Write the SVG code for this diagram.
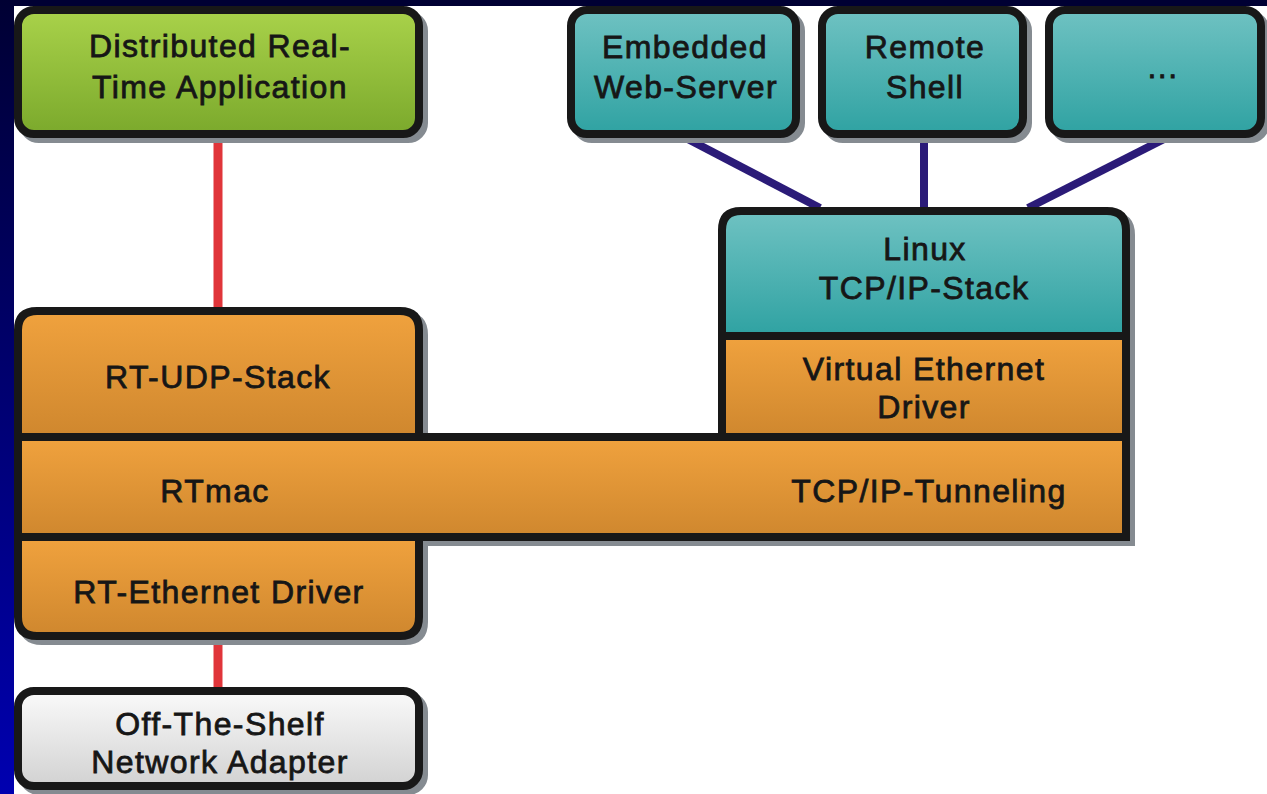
<svg xmlns="http://www.w3.org/2000/svg" width="1267" height="794" viewBox="0 0 1267 794">
  <defs>
    <linearGradient id="gGreen" x1="0" y1="0" x2="0" y2="1">
      <stop offset="0" stop-color="#a9d24a"/>
      <stop offset="1" stop-color="#7ba92c"/>
    </linearGradient>
    <linearGradient id="gTeal" x1="0" y1="0" x2="0" y2="1">
      <stop offset="0" stop-color="#6fc2c2"/>
      <stop offset="1" stop-color="#2fa2a2"/>
    </linearGradient>
    <linearGradient id="gOrange" x1="0" y1="0" x2="0" y2="1">
      <stop offset="0" stop-color="#f0a23e"/>
      <stop offset="1" stop-color="#cf872e"/>
    </linearGradient>
    <linearGradient id="gGray" x1="0" y1="0" x2="0" y2="1">
      <stop offset="0" stop-color="#fafafa"/>
      <stop offset="1" stop-color="#d2d2d2"/>
    </linearGradient>
    <linearGradient id="gSide" x1="0" y1="0" x2="0" y2="1">
      <stop offset="0" stop-color="#000033"/>
      <stop offset="1" stop-color="#0000b0"/>
    </linearGradient>
  </defs>
  <style>
    .box { stroke: #181818; stroke-width: 8; stroke-linejoin: miter; }
    .shadow { fill: #858b91; stroke: #858b91; stroke-width: 8; }
    .lbl { font-family: "Liberation Sans", Arial, sans-serif; font-size: 32px; fill: #161616; stroke: #161616; stroke-width: 0.8px; text-anchor: middle; letter-spacing: 1.4px; }
    .red { stroke: #e0353a; stroke-width: 9; fill: none; }
    .ind { stroke: #2b1b78; stroke-width: 8; fill: none; }
  </style>

  <rect x="0" y="0" width="1267" height="794" fill="#ffffff"/>
  <rect x="0" y="0" width="1267" height="6" fill="#000033"/>
  <rect x="0" y="0" width="14" height="794" fill="url(#gSide)"/>

  <g id="connectors">
    <line class="red" x1="218" y1="138" x2="218" y2="308"/>
    <line class="red" x1="218" y1="638" x2="218" y2="689"/>
    <line class="ind" x1="682" y1="136" x2="820" y2="208"/>
    <line class="ind" x1="924" y1="136" x2="924" y2="208"/>
    <line class="ind" x1="1174" y1="134" x2="1028" y2="208"/>
  </g>

  <g id="shadows" transform="translate(5,5)">
    <rect class="shadow" x="18" y="10" width="401" height="124" rx="16"/>
    <rect class="shadow" x="571" y="10" width="225" height="124" rx="16"/>
    <rect class="shadow" x="822" y="10" width="201" height="124" rx="16"/>
    <rect class="shadow" x="1049" y="10" width="212" height="124" rx="16"/>
    <path class="shadow" d="M18,330 Q18,311 37,311 L400,311 Q419,311 419,330 L419,617 Q419,636 400,636 L37,636 Q18,636 18,617 Z"/>
    <path class="shadow" d="M18,437 L1126,437 L1126,537 L18,537 Z"/>
    <path class="shadow" d="M722,230 Q722,211 741,211 L1107,211 Q1126,211 1126,230 L1126,437 L722,437 Z"/>
    <rect class="shadow" x="18" y="691" width="401" height="95" rx="16"/>
  </g>

  <g id="app">
    <rect class="box" x="18" y="10" width="401" height="124" rx="16" fill="url(#gGreen)"/>
    <text class="lbl" x="220" y="57">Distributed Real-</text>
    <text class="lbl" x="220" y="98">Time Application</text>
  </g>

  <g id="webserver">
    <rect class="box" x="571" y="10" width="225" height="124" rx="16" fill="url(#gTeal)"/>
    <text class="lbl" x="685" y="58">Embedded</text>
    <text class="lbl" x="686" y="98">Web-Server</text>
  </g>

  <g id="shell">
    <rect class="box" x="822" y="10" width="201" height="124" rx="16" fill="url(#gTeal)"/>
    <text class="lbl" x="925" y="58">Remote</text>
    <text class="lbl" x="925" y="98">Shell</text>
  </g>

  <g id="more">
    <rect class="box" x="1049" y="10" width="212" height="124" rx="16" fill="url(#gTeal)"/>
    <text class="lbl" x="1163" y="78">...</text>
  </g>

  <g id="rtudp">
    <path class="box" d="M18,330 Q18,311 37,311 L400,311 Q419,311 419,330 L419,437 L18,437 Z" fill="url(#gOrange)"/>
    <text class="lbl" x="218" y="388">RT-UDP-Stack</text>
  </g>

  <g id="linux">
    <path class="box" d="M722,230 Q722,211 741,211 L1107,211 Q1126,211 1126,230 L1126,336 L722,336 Z" fill="url(#gTeal)"/>
    <text class="lbl" x="925" y="260">Linux</text>
    <text class="lbl" x="924" y="299">TCP/IP-Stack</text>
  </g>

  <g id="vnic">
    <rect class="box" x="722" y="336" width="404" height="101" fill="url(#gOrange)"/>
    <text class="lbl" x="924" y="380">Virtual Ethernet</text>
    <text class="lbl" x="924" y="418">Driver</text>
  </g>

  <g id="rtmac">
    <rect class="box" x="18" y="437" width="1108" height="100" fill="url(#gOrange)"/>
    <text class="lbl" x="215" y="502">RTmac</text>
    <text class="lbl" x="929" y="502">TCP/IP-Tunneling</text>
  </g>

  <g id="rtdriver">
    <path class="box" d="M18,537 L419,537 L419,617 Q419,636 400,636 L37,636 Q18,636 18,617 Z" fill="url(#gOrange)"/>
    <text class="lbl" x="219" y="603">RT-Ethernet Driver</text>
  </g>

  <g id="adapter">
    <rect class="box" x="18" y="691" width="401" height="95" rx="16" fill="url(#gGray)"/>
    <text class="lbl" x="220" y="735">Off-The-Shelf</text>
    <text class="lbl" x="220" y="773">Network Adapter</text>
  </g>
</svg>
